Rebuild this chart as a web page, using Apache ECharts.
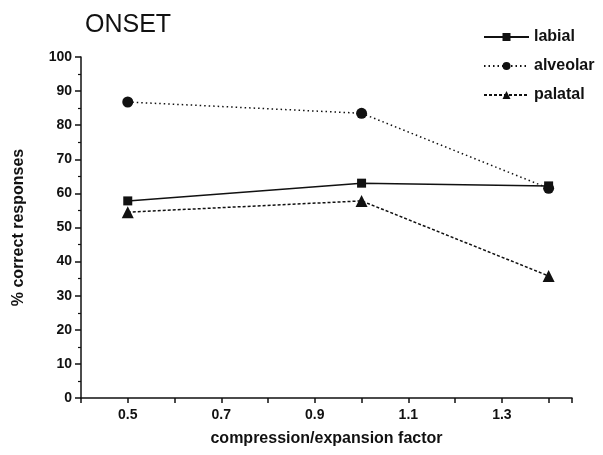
<!DOCTYPE html>
<html>
<head>
<meta charset="utf-8">
<script src="https://cdn.jsdelivr.net/npm/echarts@6/dist/echarts.min.js"></script>
<style>
  html, body { margin: 0; padding: 0; background: #fff; }
  #chart { width: 603px; height: 455px; }
</style>
</head>
<body>
<div id="chart"></div>
<script>
// 1. Data
const factors = [0.5, 1.0, 1.4];
const labial = [57.8, 63.0, 62.2];
const alveolar = [86.8, 83.5, 61.5];
const palatal = [54.5, 57.8, 35.8];

const pairs = ys => factors.map((x, i) => [x, ys[i]]);
const FONT = 'Liberation Sans, Arial, sans-serif';

// only label the odd tenths (0.5, 0.7, ...) like the original figure
function xLabel(v) {
    const t = v * 10;
    if (Math.abs(t - Math.round(t)) > 1e-6) return '';
    return Math.round(t) % 2 === 1 ? v.toFixed(1) : '';
}

// 2. Chart
const chart = echarts.init(document.getElementById('chart'));
chart.setOption({
    backgroundColor: '#fff',
    animation: false,
    title: {
        text: 'ONSET',
        left: 80,
        top: 8,
        textStyle: { fontFamily: FONT, fontSize: 25, fontWeight: 'normal', color: '#111' }
    },
    legend: {
        orient: 'vertical',
        left: 478,
        top: 24,
        itemWidth: 45,
        itemHeight: 10,
        itemGap: 13,
        textStyle: { fontFamily: FONT, fontSize: 16, fontWeight: 'bold', color: '#111' },
        data: ['labial', 'alveolar', 'palatal']
    },
    grid: { left: 81, right: 31, top: 57, bottom: 57, outerBoundsMode: 'none' },
    xAxis: {
        type: 'value',
        min: 0.4,
        max: 1.45,
        interval: 0.1,
        name: 'compression/expansion factor',
        nameLocation: 'middle',
        nameGap: 33,
        nameMoveOverlap: false,
        nameTextStyle: { fontFamily: FONT, fontSize: 16, fontWeight: 'bold', color: '#111' },
        axisLine: { lineStyle: { color: '#111', width: 1.5 } },
        axisTick: { length: 5, lineStyle: { color: '#111', width: 1.5 } },
        axisLabel: {
            fontFamily: FONT, fontSize: 14, fontWeight: 'bold', color: '#111', margin: 10,
            formatter: xLabel
        },
        splitLine: { show: false }
    },
    yAxis: {
        type: 'value',
        min: 0,
        max: 100,
        interval: 10,
        name: '% correct responses',
        nameLocation: 'middle',
        nameGap: 54,
        nameMoveOverlap: false,
        nameTextStyle: { fontFamily: FONT, fontSize: 16, fontWeight: 'bold', color: '#111' },
        axisLine: { show: true, lineStyle: { color: '#111', width: 1.5 } },
        axisTick: { show: true, length: 6, lineStyle: { color: '#111', width: 1.5 } },
        minorTick: { show: true, splitNumber: 2, length: 3, lineStyle: { color: '#111', width: 1.2 } },
        axisLabel: { fontFamily: FONT, fontSize: 14, fontWeight: 'bold', color: '#111', margin: 9 },
        splitLine: { show: false }
    },
    series: [
        {
            name: 'labial', type: 'line', data: pairs(labial),
            symbol: 'rect', symbolSize: 9,
            itemStyle: { color: '#111' },
            lineStyle: { color: '#111', width: 1.5, type: 'solid' }
        },
        {
            name: 'alveolar', type: 'line', data: pairs(alveolar),
            symbol: 'circle', symbolSize: 11,
            itemStyle: { color: '#111' },
            lineStyle: { color: '#111', width: 1.5, type: [1.5, 3] }
        },
        {
            name: 'palatal', type: 'line', data: pairs(palatal),
            symbol: 'triangle', symbolSize: 12,
            itemStyle: { color: '#111' },
            lineStyle: { color: '#111', width: 1.5, type: [3, 2] }
        }
    ]
});
</script>
</body>
</html>
